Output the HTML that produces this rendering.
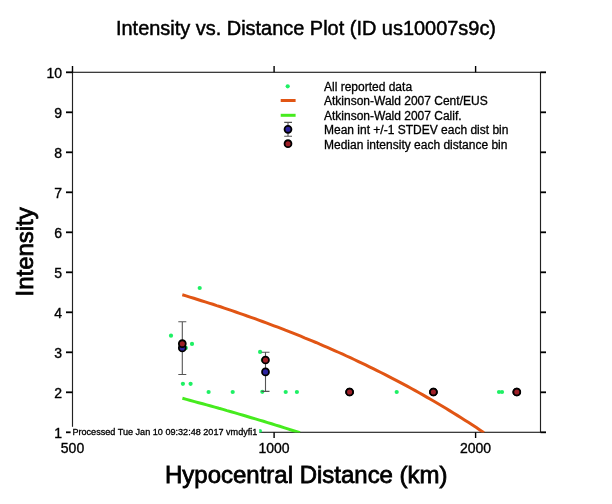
<!DOCTYPE html>
<html><head><meta charset="utf-8"><style>
html,body{margin:0;padding:0;background:#fff;}
svg{display:block;will-change:transform;}
text{font-family:"Liberation Sans",sans-serif;fill:#000;stroke:#000;stroke-width:0.3px;}
.tl{font-size:14px;stroke-width:0.35px;}
.ti{font-size:20.5px;stroke-width:0.5px;}
.ax{font-size:24.5px;stroke-width:0.8px;}
.lg{font-size:12px;}
.pr{font-size:9px;}
</style></head><body>
<svg width="612" height="504" viewBox="0 0 612 504">
<rect width="612" height="504" fill="#fff"/>
<defs><clipPath id="pc"><rect x="72.5" y="72.5" width="468" height="360"/></clipPath></defs>
<rect x="72.5" y="72.3" width="468" height="360" fill="none" stroke="#222" stroke-width="1.15"/>
<line x1="66" y1="432.3" x2="72.5" y2="432.3" stroke="#000" stroke-width="1.8"/>
<line x1="540.5" y1="432.3" x2="546" y2="432.3" stroke="#000" stroke-width="1.8"/>
<text x="62" y="437.7" text-anchor="end" class="tl">1</text>
<line x1="66" y1="392.3" x2="72.5" y2="392.3" stroke="#000" stroke-width="1.8"/>
<line x1="540.5" y1="392.3" x2="546" y2="392.3" stroke="#000" stroke-width="1.8"/>
<text x="62" y="397.7" text-anchor="end" class="tl">2</text>
<line x1="66" y1="352.3" x2="72.5" y2="352.3" stroke="#000" stroke-width="1.8"/>
<line x1="540.5" y1="352.3" x2="546" y2="352.3" stroke="#000" stroke-width="1.8"/>
<text x="62" y="357.7" text-anchor="end" class="tl">3</text>
<line x1="66" y1="312.3" x2="72.5" y2="312.3" stroke="#000" stroke-width="1.8"/>
<line x1="540.5" y1="312.3" x2="546" y2="312.3" stroke="#000" stroke-width="1.8"/>
<text x="62" y="317.7" text-anchor="end" class="tl">4</text>
<line x1="66" y1="272.3" x2="72.5" y2="272.3" stroke="#000" stroke-width="1.8"/>
<line x1="540.5" y1="272.3" x2="546" y2="272.3" stroke="#000" stroke-width="1.8"/>
<text x="62" y="277.7" text-anchor="end" class="tl">5</text>
<line x1="66" y1="232.3" x2="72.5" y2="232.3" stroke="#000" stroke-width="1.8"/>
<line x1="540.5" y1="232.3" x2="546" y2="232.3" stroke="#000" stroke-width="1.8"/>
<text x="62" y="237.7" text-anchor="end" class="tl">6</text>
<line x1="66" y1="192.3" x2="72.5" y2="192.3" stroke="#000" stroke-width="1.8"/>
<line x1="540.5" y1="192.3" x2="546" y2="192.3" stroke="#000" stroke-width="1.8"/>
<text x="62" y="197.7" text-anchor="end" class="tl">7</text>
<line x1="66" y1="152.3" x2="72.5" y2="152.3" stroke="#000" stroke-width="1.8"/>
<line x1="540.5" y1="152.3" x2="546" y2="152.3" stroke="#000" stroke-width="1.8"/>
<text x="62" y="157.7" text-anchor="end" class="tl">8</text>
<line x1="66" y1="112.3" x2="72.5" y2="112.3" stroke="#000" stroke-width="1.8"/>
<line x1="540.5" y1="112.3" x2="546" y2="112.3" stroke="#000" stroke-width="1.8"/>
<text x="62" y="117.7" text-anchor="end" class="tl">9</text>
<line x1="66" y1="72.3" x2="72.5" y2="72.3" stroke="#000" stroke-width="1.8"/>
<line x1="540.5" y1="72.3" x2="546" y2="72.3" stroke="#000" stroke-width="1.8"/>
<text x="62" y="77.7" text-anchor="end" class="tl">10</text>
<line x1="72.5" y1="432.3" x2="72.5" y2="438" stroke="#000" stroke-width="1.4"/>
<line x1="72.5" y1="66" x2="72.5" y2="72.3" stroke="#000" stroke-width="1.4"/>
<text x="72.5" y="452.8" text-anchor="middle" class="tl">500</text>
<line x1="274.1" y1="432.3" x2="274.1" y2="438" stroke="#000" stroke-width="1.4"/>
<line x1="274.1" y1="66" x2="274.1" y2="72.3" stroke="#000" stroke-width="1.4"/>
<text x="274.1" y="452.8" text-anchor="middle" class="tl">1000</text>
<line x1="475.6" y1="432.3" x2="475.6" y2="438" stroke="#000" stroke-width="1.4"/>
<line x1="475.6" y1="66" x2="475.6" y2="72.3" stroke="#000" stroke-width="1.4"/>
<text x="475.6" y="452.8" text-anchor="middle" class="tl">2000</text>
<g clip-path="url(#pc)"><circle cx="199.7" cy="288" r="2.1" fill="#1ef064"/><circle cx="171" cy="335.7" r="2.1" fill="#1ef064"/><circle cx="192" cy="343.9" r="2.1" fill="#1ef064"/><circle cx="185.8" cy="347.9" r="2.1" fill="#1ef064"/><circle cx="182.9" cy="383.8" r="2.1" fill="#1ef064"/><circle cx="190.6" cy="383.8" r="2.1" fill="#1ef064"/><circle cx="208.6" cy="392" r="2.1" fill="#1ef064"/><circle cx="232.7" cy="392" r="2.1" fill="#1ef064"/><circle cx="260.1" cy="351.9" r="2.1" fill="#1ef064"/><circle cx="262.8" cy="360" r="2.1" fill="#1ef064"/><circle cx="262.3" cy="391.8" r="2.1" fill="#1ef064"/><circle cx="285.7" cy="392" r="2.1" fill="#1ef064"/><circle cx="296.9" cy="392" r="2.1" fill="#1ef064"/><circle cx="396.7" cy="392" r="2.1" fill="#1ef064"/><circle cx="499" cy="392" r="2.1" fill="#1ef064"/><circle cx="502" cy="392" r="2.1" fill="#1ef064"/><circle cx="349.6" cy="392" r="2.1" fill="#1ef064"/><circle cx="433.4" cy="392" r="2.1" fill="#1ef064"/><circle cx="516.8" cy="392" r="2.1" fill="#1ef064"/><circle cx="259.9" cy="431.0" r="2.1" fill="#1ef064"/><path d="M182.3,294.8 L186.1,295.9 L189.9,297.1 L193.8,298.3 L197.6,299.5 L201.4,300.7 L205.2,301.9 L209.0,303.1 L212.9,304.3 L216.7,305.6 L220.5,306.8 L224.3,308.1 L228.1,309.4 L231.9,310.7 L235.8,312.0 L239.6,313.3 L243.4,314.6 L247.2,316.0 L251.0,317.3 L254.9,318.7 L258.7,320.1 L262.5,321.5 L266.3,322.9 L270.1,324.3 L274.0,325.8 L277.8,327.2 L281.6,328.7 L285.4,330.2 L289.2,331.6 L293.1,333.2 L296.9,334.7 L300.7,336.2 L304.5,337.8 L308.3,339.3 L312.1,340.9 L316.0,342.5 L319.8,344.2 L323.6,345.8 L327.4,347.4 L331.2,349.1 L335.1,350.8 L338.9,352.5 L342.7,354.2 L346.5,356.0 L350.3,357.7 L354.2,359.5 L358.0,361.3 L361.8,363.1 L365.6,364.9 L369.4,366.8 L373.2,368.7 L377.1,370.6 L380.9,372.5 L384.7,374.4 L388.5,376.4 L392.3,378.3 L396.2,380.3 L400.0,382.3 L403.8,384.4 L407.6,386.4 L411.4,388.5 L415.3,390.6 L419.1,392.7 L422.9,394.9 L426.7,397.1 L430.5,399.3 L434.4,401.5 L438.2,403.7 L442.0,406.0 L445.8,408.3 L449.6,410.6 L453.4,413.0 L457.3,415.4 L461.1,417.8 L464.9,420.2 L468.7,422.6 L472.5,425.1 L476.4,427.6 L480.2,430.2 L484.0,432.7" fill="none" stroke="#e15514" stroke-width="3"/><path d="M182.4,398.3 L186.5,399.4 L190.5,400.5 L194.6,401.6 L198.6,402.7 L202.7,403.8 L206.7,404.9 L210.8,406.0 L214.8,407.1 L218.9,408.3 L223.0,409.4 L227.0,410.6 L231.1,411.7 L235.1,412.9 L239.2,414.1 L243.2,415.3 L247.3,416.5 L251.3,417.7 L255.4,418.9 L259.4,420.1 L263.5,421.3 L267.6,422.6 L271.6,423.8 L275.7,425.1 L279.7,426.3 L283.8,427.6 L287.8,428.9 L291.9,430.2 L295.9,431.5 L300.0,432.8" fill="none" stroke="#46eb1e" stroke-width="3"/></g>
<path d="M178.3,321.7 H186.3 M182.3,321.7 V374.5 M178.3,374.5 H186.3" stroke="#555" stroke-width="1.1" fill="none"/>
<circle cx="182.3" cy="347.9" r="3.45" fill="#2d23a0" stroke="#000" stroke-width="1.8"/>
<circle cx="182.3" cy="343.7" r="3.45" fill="#9e2028" stroke="#000" stroke-width="1.8"/>
<path d="M261.5,352.3 H269.5 M265.5,352.3 V391.4 M261.5,391.4 H269.5" stroke="#555" stroke-width="1.1" fill="none"/>
<circle cx="265.5" cy="371.9" r="3.45" fill="#2d23a0" stroke="#000" stroke-width="1.8"/>
<circle cx="265.5" cy="360" r="3.45" fill="#9e2028" stroke="#000" stroke-width="1.8"/>
<circle cx="349.6" cy="392" r="3.45" fill="#2d23a0" stroke="#000" stroke-width="1.8"/>
<circle cx="349.6" cy="392" r="3.45" fill="#9e2028" stroke="#000" stroke-width="1.8"/>
<circle cx="433.4" cy="392" r="3.45" fill="#2d23a0" stroke="#000" stroke-width="1.8"/>
<circle cx="433.4" cy="392" r="3.45" fill="#9e2028" stroke="#000" stroke-width="1.8"/>
<circle cx="516.8" cy="392" r="3.45" fill="#2d23a0" stroke="#000" stroke-width="1.8"/>
<circle cx="516.8" cy="392" r="3.45" fill="#9e2028" stroke="#000" stroke-width="1.8"/>
<rect x="70.6" y="426.8" width="188.6" height="12" fill="#fff"/>
<text x="72.4" y="434.7" class="pr" textLength="185" lengthAdjust="spacingAndGlyphs">Processed Tue Jan 10 09:32:48 2017 vmdyfi1</text>
<circle cx="287.7" cy="86.3" r="2.1" fill="#1ef064"/>
<line x1="280.7" y1="100.5" x2="295.6" y2="100.5" stroke="#e15514" stroke-width="3"/>
<line x1="280.7" y1="115.3" x2="295.6" y2="115.3" stroke="#46eb1e" stroke-width="3"/>
<path d="M284.2,122.4 H292 M288,122.4 V136.3 M284.2,136.3 H292" stroke="#555" stroke-width="1.1" fill="none"/>
<circle cx="288" cy="129.3" r="3.45" fill="#2d23a0" stroke="#000" stroke-width="1.8"/>
<circle cx="288" cy="143.7" r="3.45" fill="#9e2028" stroke="#000" stroke-width="1.8"/>
<text x="324" y="90.9" class="lg">All reported data</text>
<text x="324" y="105.4" class="lg">Atkinson-Wald 2007 Cent/EUS</text>
<text x="324" y="119.9" class="lg">Atkinson-Wald 2007 Calif.</text>
<text x="324" y="134.4" class="lg">Mean int +/-1 STDEV each dist bin</text>
<text x="324" y="148.9" class="lg">Median intensity each distance bin</text>
<text x="306" y="34.8" text-anchor="middle" class="ti" textLength="380" lengthAdjust="spacingAndGlyphs">Intensity vs. Distance Plot (ID us10007s9c)</text>
<text x="306.3" y="482.9" text-anchor="middle" class="ax" textLength="282.5" lengthAdjust="spacingAndGlyphs">Hypocentral Distance (km)</text>
<text transform="translate(33.2,251.9) rotate(-90)" text-anchor="middle" class="ax" textLength="89" lengthAdjust="spacingAndGlyphs">Intensity</text>
</svg>
</body></html>
